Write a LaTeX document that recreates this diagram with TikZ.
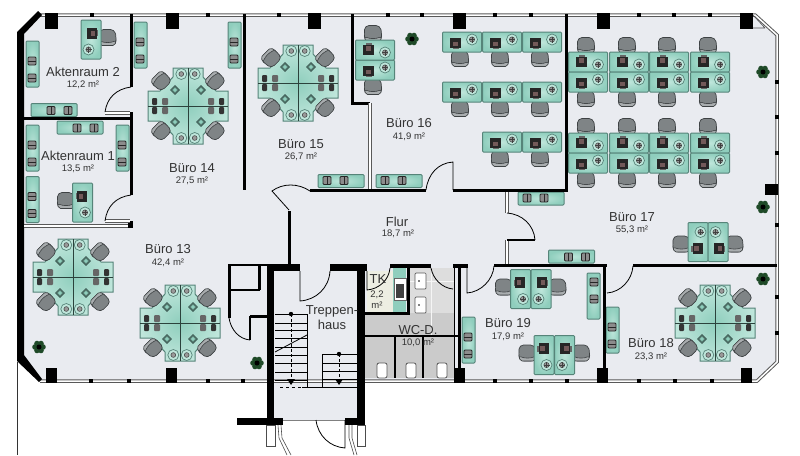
\documentclass[tikz,border=0pt]{standalone}
\usepackage{fontspec}
\setmainfont{Liberation Sans}
\definecolor{floorgrey}{HTML}{E9EBF0}
\definecolor{deskteal}{HTML}{8FCEBD}
\definecolor{deskhi}{HTML}{BFE6DB}
\definecolor{deskedge}{HTML}{568479}
\definecolor{chairgrey}{HTML}{7F8486}
\definecolor{chairhi}{HTML}{A9ADAF}
\definecolor{chairedge}{HTML}{3E4244}
\definecolor{tilegrey}{HTML}{CBCBCB}
\definecolor{tilehi}{HTML}{DDDDDD}
\definecolor{tkcream}{HTML}{EDEEE2}
\definecolor{plantgreen}{HTML}{1F4A28}
\definecolor{labelgrey}{HTML}{333333}
\tikzset{
    wall/.style={black,line width=3pt},
    thinwall/.style={black,line width=1.2pt},
    doorleaf/.style={black,line width=0.8pt},
    windowline/.style={double=white,draw=black!65,double distance=1.5pt,line width=1pt},
    stairline/.style={black,line width=0.8pt},
    roomlabel/.style={font=\fontsize{13}{15}\selectfont,text=labelgrey,inner sep=0pt,align=center},
    roomarea/.style={font=\fontsize{9.5}{11}\selectfont,text=labelgrey,inner sep=0pt,align=center},
    deskbox/.style={draw=deskedge,line width=1pt,rounded corners=1pt,inner color=deskhi,outer color=deskteal},
    chairseat/.pic={
        \draw[fill=chairgrey,draw=chairedge,line width=0.7pt,rounded corners=4pt] (-8,-8) -- (7,-8) -- (9,1) -- (7.5,8) -- (-7.5,8) -- (-9,1) -- cycle;
        \draw[fill=chairhi,draw=chairedge,line width=0.6pt,rounded corners=2pt] (-8.5,3) .. controls (-3,5.5) and (3,5.5) .. (8.5,3) -- (7.5,8) -- (-7.5,8) -- cycle;
    },
    workdesk/.pic={
        \pic at (-2,16.5) {chairseat};
        \draw[deskbox] (-19.5,-10) rectangle (19.5,10);
        \fill[black!85] (-12,-4.5) rectangle (-1,5.5);
        \fill[red!15!black!65] (-9,-0.5) rectangle (-4,4);
        \fill[black!60] (-9.5,5.5) rectangle (-3.5,7);
        \draw[fill=deskhi,draw=deskedge,line width=0.7pt] (10,-2.5) circle (5.5);
        \draw[fill=black!40,draw=black!75,line width=0.5pt] (10,-2.5) circle (2.6);
        \draw[black!75,line width=0.3pt] (7,-2.5) -- (13,-2.5) (10,-5.5) -- (10,0.5);
    },
    wallshelf/.pic={
        \draw[deskbox] (-6.5,-23) rectangle (6.5,23);
        \foreach \y in {-3,14}
        {%
            \draw[fill=black!45,draw=black!85,line width=0.8pt,rounded corners=1pt] (-4.5,{\y-4}) rectangle (3.5,{\y+4});
            \draw[black!85,line width=0.5pt] (-4.5,\y) -- (3.5,\y);
        }%
    },
    deskcluster/.pic={
        \draw[draw=deskedge,line width=1pt,inner color=deskteal,outer color=deskhi] (-15,-38) -- (15,-38) -- (15,-29) -- (28,-15) -- (40,-15) -- (40,15) -- (28,15) -- (15,29) -- (15,38) -- (-15,38) -- (-15,29) -- (-28,15) -- (-40,15) -- (-40,-15) -- (-28,-15) -- (-15,-29) -- cycle;
        \foreach \fx/\fy in {1/1,1/-1,-1/1,-1/-1}
        {%
            \begin{scope}[xscale=\fx,yscale=\fy]
                \pic[rotate=225,scale=0.95] at (-27,-25) {chairseat};
                \draw[fill=deskhi,draw=deskedge,line width=0.7pt] (-6.7,-32) circle (5.5);
                \draw[fill=black!40,draw=black!75,line width=0.5pt] (-6.7,-32) circle (2.4);
                \draw[draw=deskedge!60!black,fill=deskteal!60!black,line width=0.5pt] (-13,-20.5) -- (-8.5,-16) -- (-13,-11.5) -- (-17.5,-16) -- cycle;
                \fill[deskteal] (-13,-18) -- (-10.8,-16) -- (-13,-14) -- (-15.2,-16) -- cycle;
                \fill[black!80,rounded corners=1pt] (-36,-8) rectangle (-31,-1);
                \fill[black!60,rounded corners=1pt] (-26,-8) rectangle (-20,-1);
            \end{scope}
        }%
        \draw[deskedge!50!black,line width=0.9pt] (0,-38) -- (0,38);
        \draw[deskedge!50!black,line width=0.9pt] (-40,0) -- (40,0);
    },
    potplant/.pic={
        \foreach \a in {0,60,...,300}
        {%
            \fill[plantgreen] (\a:4) circle (2.8);
        }%
        \fill[black] (0,0) circle (2.5);
    }
}
\begin{document}
\begin{tikzpicture}[x=1pt,y=-1pt]
    \useasboundingbox (0,0) rectangle (800,455);
    % floor
    \fill[floorgrey] (40,15) -- (755,15) -- (777,35) -- (777,362) -- (757,381) -- (40,381) -- (18,360) -- (18,32) -- cycle;
    \fill[floorgrey] (270,381) rectangle (361,420);
    % toilets and TK
    \fill[tilegrey] (365,313) rectangle (455,378);
    \fill[tilehi] (408,268) rectangle (455,313);
    \fill[tkcream] (367,271) rectangle (393,313);
    \draw[white!80!tilegrey,line width=0.5pt] (365,336) -- (455,336) (408,281) -- (455,281) (431,268) -- (431,336);
    \fill[deskteal] (393,267) rectangle (406,312);
    \draw[fill=white,draw=black!60,line width=0.5pt] (394,278) rectangle (406,300);
    \fill[black!75] (396,284) rectangle (404,298);
    \foreach \y in {273,297}
    {%
        \draw[fill=white,draw=black!65,line width=0.7pt,rounded corners=1pt] (415,\y) rectangle (426,{\y+16});
        \fill[black] (419,{\y+8}) circle (0.8);
    }%
    \foreach \x in {377,406,437}
    {%
        \draw[fill=white,draw=black!65,line width=0.8pt,rounded corners=2pt] (\x,363) -- ({\x+10},363) -- ({\x+10},378) -- (\x,378) -- cycle;
    }%
    % furniture
    \foreach \x/\y in {188/106,298/83,73/277,180/323,715/323}
    {%
        \pic at (\x,\y) {deskcluster};
    }%
    \foreach \x/\y in {32.5/64,140.5/45,234.5/45,32.5/148,32.5/199.5,122.5/148,612.5/330,468.5/340}
    {%
        \pic at (\x,\y) {wallshelf};
    }%
    \foreach \x/\y/\ang in {54/110/90,80/127.5/90,341/181/-90,399/181/-90,541/198.5/-90,571.5/256.5/90,593.5/296/180}
    {%
        \pic[rotate=\ang] at (\x,\y) {wallshelf};
    }%
    \foreach \x/\y in {462/42,502/42,542/42,462/92,502/92,542/92,502/142,542/142,375/70}
    {%
        \pic at (\x,\y) {workdesk};
    }%
    \pic[yscale=-1] at (375,50) {workdesk};
    \foreach \x in {588,629,669,710}
    {%
        \pic[yscale=-1] at (\x,62) {workdesk};
        \pic at (\x,82) {workdesk};
        \pic[yscale=-1] at (\x,143) {workdesk};
        \pic at (\x,163) {workdesk};
    }%
    \foreach \x/\y/\ang/\fx in {698/242/-90/-1,718/242/90/1,520.5/289/-90/1,541/289/90/-1,544/355/-90/1,564.5/355/90/-1,91/39.5/90/-1,82.5/202.5/-90/1}
    {%
        \pic[rotate=\ang,xscale=\fx] at (\x,\y) {workdesk};
    }%
    \foreach \x/\y in {39/347,257/363,412/39,763/72,763/207,763/279}
    {%
        \pic at (\x,\y) {potplant};
    }%
    % facade
    \draw[windowline] (40,15) -- (755,15) -- (777,35) -- (777,362) -- (757,381) -- (40,381);
    \draw[black!70,line width=0.6pt] (740,28) -- (765,28) (753,15) -- (765,28);
    \draw[black!80,line width=0.6pt] (17,362) -- (17,455);
    \fill[black] (17,32) -- (38,11) -- (42,15) -- (24,34) -- (24,355) -- (42,379) -- (39,382) -- (17,361) -- cycle;
    \foreach \x in {92,208,279,388,422,495,531,639,674,710}
    {%
        \fill[black] ({\x-2},13) rectangle ({\x+2},17);
    }%
    \foreach \x in {91,129,208,243,495,531,567,639,675,712}
    {%
        \fill[black] ({\x-2},379) rectangle ({\x+2},382.5);
    }%
    \foreach \y in {82,117,153,225,297,333}
    {%
        \fill[black] (775,{\y-2}) rectangle (779,{\y+2});
    }%
    \foreach \x in {45,166,308,453,597,740}
    {%
        \fill[black] (\x,13) rectangle ({\x+13},29);
    }%
    \foreach \x in {46,166,454,597,741}
    {%
        \fill[black] (\x,368) rectangle ({\x+11},382.5);
    }%
    \fill[black] (765,184) rectangle (778,195);
    % walls
    \draw[wall] (131,14) -- (131,87);
    \draw[wall] (131,112) -- (131,195);
    \draw[wall] (24,118) -- (131,118);
    \draw[windowline] (24,226) -- (130,226);
    \fill[black] (128,221) rectangle (133,228);
    \draw[windowline] (105,113) -- (130,113);
    \draw[windowline] (105,221) -- (130,221);
    \draw[wall] (244,14) -- (244,190);
    \draw[wall] (352,14) -- (352,103) -- (370,103);
    \draw[windowline] (370,103) -- (370,190);
    \draw[wall] (566,14) -- (566,191.5);
    \draw[wall] (289,264) -- (289,211);
    \draw[wall] (310,190) -- (426,190);
    \draw[wall] (453,190) -- (567,190);
    \draw[windowline] (507,192) -- (507,213);
    \draw[windowline] (507,240) -- (507,264);
    \draw[thinwall] (507,240) -- (535,240);
    \fill[black] (330,264) rectangle (367,271);
    \fill[black] (390,264) rectangle (431,268);
    \fill[black] (453,264) rectangle (468,268);
    \draw[wall] (494,265) -- (607,265);
    \draw[wall] (633,265) -- (777,265);
    \draw[wall] (459.5,264) -- (459.5,370);
    \draw[wall] (604.5,265) -- (604.5,370);
    \draw[doorleaf] (454,266) -- (454,368);
    \draw[wall] (408.5,266) -- (408.5,314);
    \draw[wall] (365,313.5) -- (410,313.5);
    \draw[thinwall] (365,336) -- (459,336);
    \draw[thinwall] (395,336) -- (395,378);
    \draw[thinwall] (423,336) -- (423,378);
    % room beside the stairs
    \draw[thinwall] (228,265) -- (268,265);
    \draw[wall] (229.5,264) -- (229.5,318);
    \draw[wall] (259,264) -- (259,290);
    \draw[thinwall] (229,290) -- (260,290);
    \draw[wall] (250,316.5) -- (268,316.5);
    \draw[thinwall] (250,316) -- (250,340);
    % stairs
    \fill[black] (267,264) rectangle (300,271);
    \fill[black] (267,264) rectangle (274,425);
    \fill[black] (357,264) rectangle (365,425);
    \fill[black] (237,418) rectangle (283,425);
    \fill[black] (345,418) rectangle (365,425);
    \draw[black!50,line width=0.5pt] (283,420) -- (345,420);
    \foreach \y in {314,323,330,338,347,355,363,372,380}
    {%
        \draw[stairline] (275,\y) -- (307,\y);
    }%
    \draw[stairline] (307,314) -- (307,387);
    \foreach \y in {354,363,371,379,387}
    {%
        \draw[stairline] (322,\y) -- (357,\y);
    }%
    \draw[stairline] (322,354) -- (322,387) (302,387) -- (322,387);
    \draw[stairline,dashed] (280,387) -- (302,387);
    \draw[stairline] (275,352) -- (307,335);
    \draw[stairline,densely dashed] (291,314) -- (291,380);
    \fill[black] (291,314) circle (2.2);
    \fill[black] (287,379) -- (295,379) -- (291,385) -- cycle;
    \draw[stairline,densely dashed] (339,354) -- (339,380);
    \fill[black] (339,354) circle (2.2);
    \fill[black] (335,379) -- (343,379) -- (339,385) -- cycle;
    % entrance
    \draw[black!70,line width=0.6pt] (266,425) rectangle (275,446);
    \draw[black!70,line width=0.6pt] (357,425) rectangle (365,446);
    \draw[black!70,line width=0.6pt] (278,425) -- (279,438) -- (287,455) (281,425) -- (282,438) -- (291,455);
    \draw[black!70,line width=0.6pt] (349,425) -- (349,438) -- (354,455) (352,425) -- (352,438) -- (357,455);
    % doors
    \draw[doorleaf] (131,87) .. controls (116,89) and (107,98) .. (105,112);
    \draw[doorleaf] (131,195) .. controls (116,197) and (107,206) .. (105,221);
    \draw[doorleaf] (289,210) -- (272,191) .. controls (283,183) and (298,183) .. (310,191);
    \draw[doorleaf] (453,190) -- (453,162) .. controls (438,163) and (428,174) .. (426,190);
    \draw[doorleaf] (507,213) .. controls (522,214) and (534,225) .. (535,240);
    \draw[doorleaf] (300,271) -- (300,301) .. controls (316,300) and (329,288) .. (330,271);
    \draw[doorleaf] (367,271) -- (367,290) .. controls (379,289) and (389,280) .. (390,268);
    \draw[doorleaf] (431,268) .. controls (433,279) and (442,288) .. (453,289);
    \draw[doorleaf] (467,266) -- (467,293) .. controls (481,292) and (493,280) .. (494,266);
    \draw[doorleaf] (607,293) .. controls (621,292) and (632,280) .. (633,266);
    \draw[doorleaf] (229,318) .. controls (231,330) and (239,339) .. (250,340);
    \draw[doorleaf] (316,420) .. controls (318,436) and (330,447) .. (345,448) -- (345,420);
    % labels
    \node[roomlabel] (akten2) at (83,72) {Aktenraum 2};
    \node[roomarea] (akten2area) at (83,85) {12,2 m²};
    \node[roomlabel] (akten1) at (78,156) {Aktenraum 1};
    \node[roomarea] (akten1area) at (78,169) {13,5 m²};
    \node[roomlabel] (buero13) at (168,249) {Büro 13};
    \node[roomarea] (buero13area) at (168,263) {42,4 m²};
    \node[roomlabel] (buero14) at (192,168) {Büro 14};
    \node[roomarea] (buero14area) at (192,181) {27,5 m²};
    \node[roomlabel] (buero15) at (301,144) {Büro 15};
    \node[roomarea] (buero15area) at (301,157) {26,7 m²};
    \node[roomlabel] (buero16) at (409,123) {Büro 16};
    \node[roomarea] (buero16area) at (409,137) {41,9 m²};
    \node[roomlabel] (buero17) at (632,217) {Büro 17};
    \node[roomarea] (buero17area) at (632,230) {55,3 m²};
    \node[roomlabel] (buero18) at (651,343) {Büro 18};
    \node[roomarea] (buero18area) at (651,357) {23,3 m²};
    \node[roomlabel] (buero19) at (508,323) {Büro 19};
    \node[roomarea] (buero19area) at (508,337) {17,9 m²};
    \node[roomlabel] (flur) at (397,222) {Flur};
    \node[roomarea] (flurarea) at (398,234) {18,7 m²};
    \node[roomlabel] (treppe) at (332,318) {Treppen-\\haus};
    \node[roomlabel] (tk) at (378,279) {TK};
    \node[roomarea] (tkarea) at (377,300) {2,2\\m²};
    \node[roomlabel] (wc) at (418,330) {WC-D.};
    \node[roomarea] (wcarea) at (418,343) {10,0 m²};
\end{tikzpicture}
\end{document}
